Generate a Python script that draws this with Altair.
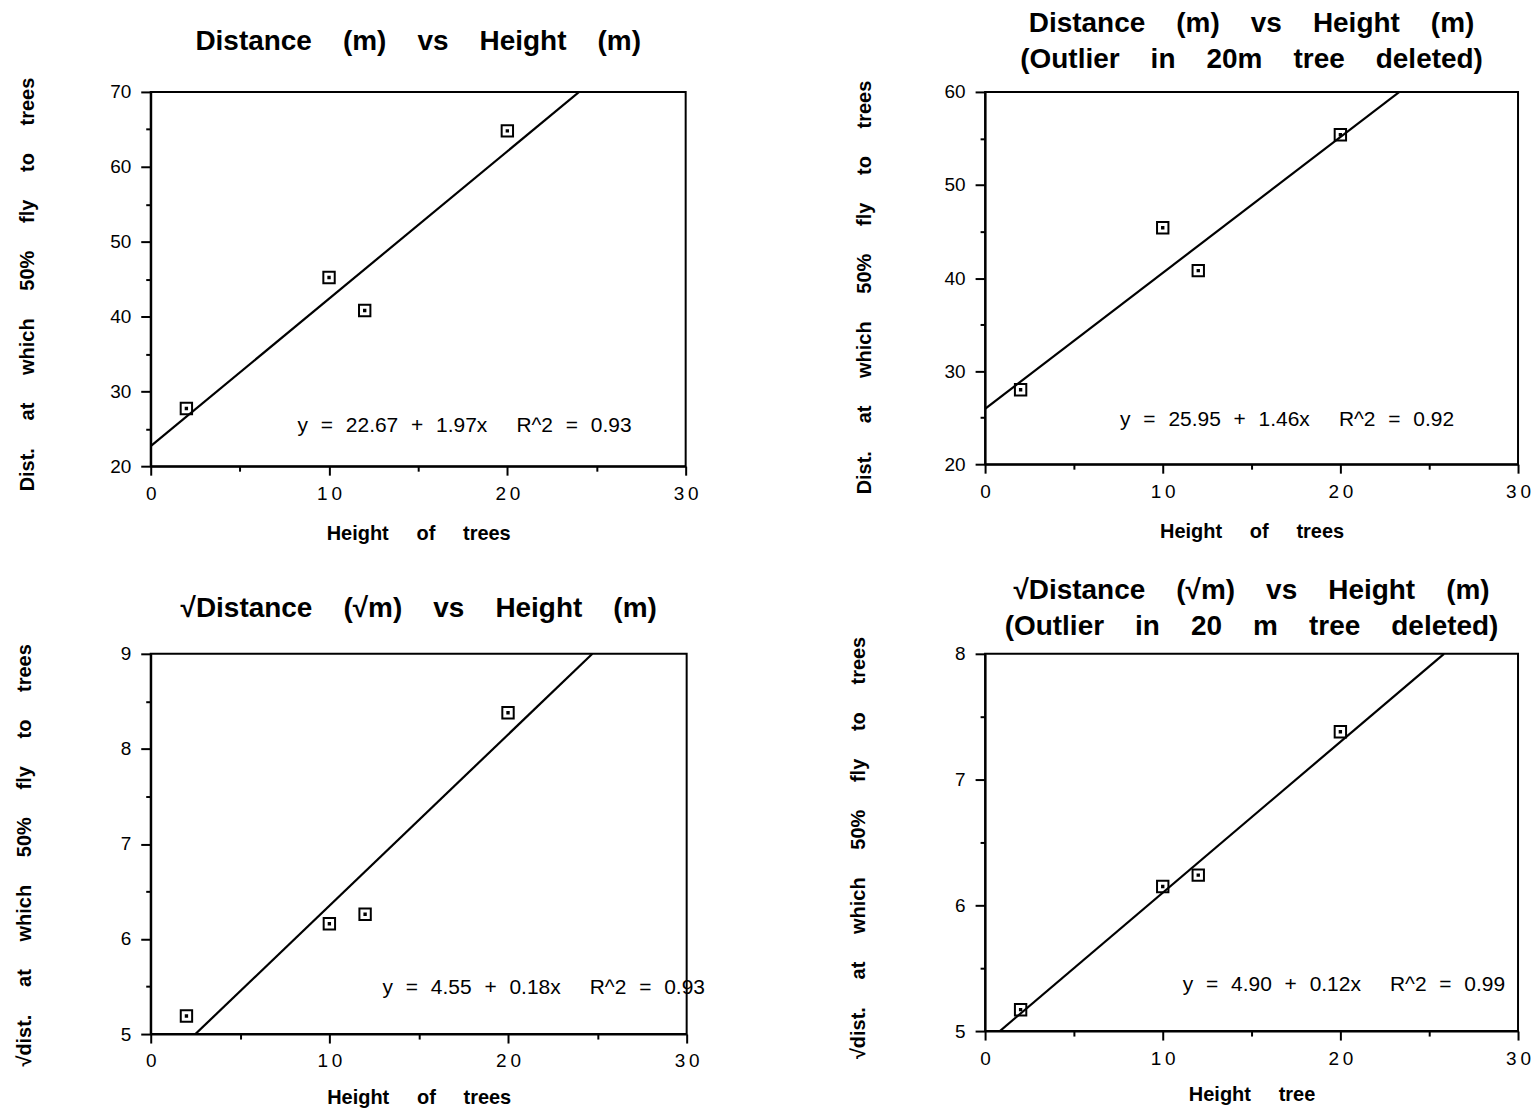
import altair as alt
import pandas as pd

FONT = "Liberation Sans"
TGAP = "\u00a0\u00a0\u00a0"        # wide word gap in the titles
AGAP = "\u00a0\u00a0\u00a0\u00a0"  # wide word gap in the axis titles

# Shared x values (height of trees, m)
heights = [2, 10, 12, 20]

# Panel values
dist_all = [27.7, 45.2, 40.8, 64.8]
dist_del = [28.0, 45.4, 40.8, 55.4]
sqrt_all = [5.19, 6.16, 6.26, 8.38]
sqrt_del = [5.17, 6.15, 6.24, 7.38]

# Regression coefficients printed on each panel (intercept, slope)
fit_all = (22.67, 1.97)
fit_del = (25.95, 1.46)
fit_sqrt_all = (4.55, 0.18)
fit_sqrt_del = (4.90, 0.12)

eq_all = "y = 22.67 + 1.97x    R^2 = 0.93"
eq_del = "y = 25.95 + 1.46x    R^2 = 0.92"
eq_sqrt_all = "y = 4.55 + 0.18x    R^2 = 0.93"
eq_sqrt_del = "y = 4.90 + 0.12x    R^2 = 0.99"

x_domain = [0, 30]

MARKER = "M-1,-1H1V1H-1Z M-0.12,-0.12H0.12V0.12H-0.12Z"


def spaced(s, gap):
    return (" " + gap).join(s.split(" "))


def eqspaced(s):
    parts = s.split("    ")
    left = " \u2004".join(parts[0].split(" "))
    right = " \u2004".join(parts[1].split(" "))
    return left + "\u00a0\u00a0\u00a0\u00a0\u00a0" + right


def panel(yvals, fit, ydom, ystep, major, title_lines, title_offset,
          xtitle, xtitle_pad, ytitle, ytitle_pad, ytitle_shift, eq_text, eq_pos, w, h):
    b, m = fit
    x0 = max(x_domain[0], (ydom[0] - b) / m)
    x1 = min(x_domain[1], (ydom[1] - b) / m)
    pts = pd.DataFrame({"x": heights, "y": yvals})
    line = pd.DataFrame({"x": [x0, x1], "y": [b + m * x0, b + m * x1]})
    eq = pd.DataFrame({"x": [eq_pos[0]], "y": [eq_pos[1]], "t": [eqspaced(eq_text)]})

    yvals_ticks = []
    v = ydom[0]
    while v <= ydom[1] + 1e-9:
        yvals_ticks.append(round(v, 3))
        v += ystep

    xaxis = alt.Axis(
        values=list(range(0, 31, 5)),
        format="d",
        labelExpr="datum.value % 10 === 0 ? (datum.value === 0 ? '0' : slice(datum.label, 0, 1) + '\u2009' + slice(datum.label, 1)) : ''",
        tickSize={"condition": {"test": "datum.value % 10 === 0", "value": 9}, "value": 5},
        title=spaced(xtitle, AGAP),
        titlePadding=xtitle_pad,
        labelPadding=9,
    )
    yaxis = alt.Axis(
        values=yvals_ticks,
        format=".0f",
        labelExpr=f"abs(datum.value % {major}) < 1e-6 ? datum.label : ''",
        tickSize={"condition": {"test": f"abs(datum.value % {major}) < 1e-6", "value": 10}, "value": 5},
        title=spaced(ytitle, AGAP),
        titlePadding=ytitle_pad,
        titleY=h / 2 + ytitle_shift,
        labelPadding=10,
    )
    X = alt.X("x:Q", scale=alt.Scale(domain=x_domain, nice=False, zero=False), axis=xaxis)
    Y = alt.Y("y:Q", scale=alt.Scale(domain=ydom, nice=False, zero=False), axis=yaxis)

    l = alt.Chart(line).mark_line(color="black", strokeWidth=2.2, clip=True).encode(x=X, y=Y)
    p = alt.Chart(pts).mark_point(shape=MARKER, filled=False, stroke="black",
                                  strokeWidth=2, size=130, opacity=1).encode(x=X, y=Y)
    t = alt.Chart(eq).mark_text(font=FONT, fontSize=21, color="black",
                                align="center", baseline="middle").encode(x=X, y=Y, text="t:N")
    return alt.layer(l, p, t).properties(
        width=w, height=h,
        title=alt.TitleParams(text=[spaced(s, TGAP) for s in title_lines], font=FONT, fontSize=28,
                              fontWeight="bold", anchor="middle", offset=title_offset,
                              frame="group", lineHeight=36, color="black"),
    )


tl = panel(dist_all, fit_all, [20, 70], 5, 10, ["Distance (m) vs Height (m)"], 21,
           "Height of trees", 20, "Dist. at which 50% fly to trees", 72, 5,
           eq_all, (17.6, 25.3), 536, 375)
tr = panel(dist_del, fit_del, [20, 60], 5, 10,
           ["Distance (m) vs Height (m)", "(Outlier in 20m tree deleted)"], 6,
           "Height of trees", 20, "Dist. at which 50% fly to trees", 70, 9,
           eq_del, (17.0, 24.8), 534, 373)
bl = panel(sqrt_all, fit_sqrt_all, [5, 9], 0.5, 1, ["√Distance (√m) vs Height (m)"], 21,
           "Height of trees", 17, "√dist. at which 50% fly to trees", 86, 11,
           eq_sqrt_all, (22.0, 5.48), 537, 381)
br = panel(sqrt_del, fit_sqrt_del, [5, 8], 0.5, 1,
           ["√Distance (√m) vs Height (m)", "(Outlier in 20 m tree deleted)"], -5,
           "Height tree", 17, "√dist. at which 50% fly to trees", 86, 5,
           eq_sqrt_del, (20.2, 5.37), 534, 378)

chart = alt.concat(
    tl, tr, bl, br, columns=2, spacing={"row": 32, "column": 141}
).properties(
    background="white", padding={"left": 5, "top": 0, "right": 0, "bottom": 0}
).configure_view(
    stroke="black", strokeWidth=2
).configure_axis(
    domainColor="black", domainWidth=2, tickColor="black", tickWidth=2, grid=False,
    labelFont=FONT, labelFontSize=19, labelColor="black", labelFlush=False, labelOverlap=False,
    titleFont=FONT, titleFontSize=20, titleFontWeight="bold", titleColor="black",
)

chart.save("out.html", embed_options={"renderer": "svg", "actions": False})
